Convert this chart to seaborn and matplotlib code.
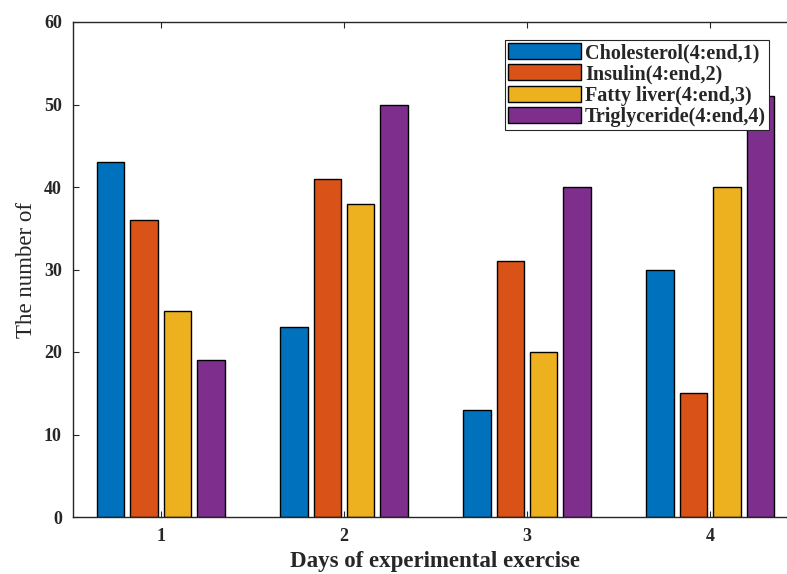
import pandas as pd
import matplotlib.pyplot as plt
import seaborn as sns

# --- data ---
days = ['1', '2', '3', '4']
series = ['Cholesterol(4:end,1)', 'Insulin(4:end,2)', 'Fatty liver(4:end,3)', 'Triglyceride(4:end,4)']
cholesterol = [43, 23, 13, 30]
insulin = [36, 41, 31, 15]
fatty_liver = [25, 38, 20, 40]
triglyceride = [19, 50, 40, 51]
colors = ['#0072BD', '#D95319', '#EDB120', '#7E2F8E']  # matlab default order

df = pd.DataFrame({
    'Day': days * 4,
    'Series': [s for s in series for _ in days],
    'Value': cholesterol + insulin + fatty_liver + triglyceride,
})

sns.set_style('white')
plt.rcParams['font.family'] = ['Liberation Serif', 'DejaVu Serif']
ink = '#262626'

fig = plt.figure(figsize=(7.87, 5.74), dpi=100)
# axes runs a little past the right edge, like the cropped original
ax = fig.add_axes([73 / 787, 57 / 574, 725 / 787, 495 / 574])

sns.barplot(data=df, x='Day', y='Value', hue='Series', hue_order=series,
            palette=colors, width=0.73, gap=0.18, edgecolor='black',
            linewidth=1.0, saturation=1, legend=False, ax=ax)

ax.set_xlim(-0.48, 3.48)
ax.set_ylim(0, 60)
ax.set_yticks(range(0, 61, 10))

for s in ax.spines.values():
    s.set_color(ink)
    s.set_linewidth(1.0)
ax.tick_params(direction='in', length=4, width=0.8, colors=ink,
               top=True, right=True, bottom=True, left=True,
               labelsize=13, pad=8)
for lab in ax.get_xticklabels() + ax.get_yticklabels():
    lab.set_fontweight('bold')
    lab.set_color(ink)

ax.set_xlabel('Days of experimental exercise', fontsize=16.5, fontweight='bold', color=ink, labelpad=4)
ax.set_ylabel('The number of', fontsize=16.5, color=ink, labelpad=5)

leg = ax.legend(handles=ax.containers, labels=series, loc='upper right',
                bbox_to_anchor=(769 / 787, 1 - 40 / 574), bbox_transform=fig.transFigure,
                prop={'weight': 'bold', 'size': 14.5}, handlelength=3.6, handleheight=0.85,
                handletextpad=0.2, labelspacing=0.07, borderpad=0.15, borderaxespad=0,
                fancybox=False, framealpha=1)
leg.get_frame().set_edgecolor(ink)
leg.get_frame().set_linewidth(0.8)
for t in leg.get_texts():
    t.set_color(ink)

fig.savefig('out.png', dpi=100)
